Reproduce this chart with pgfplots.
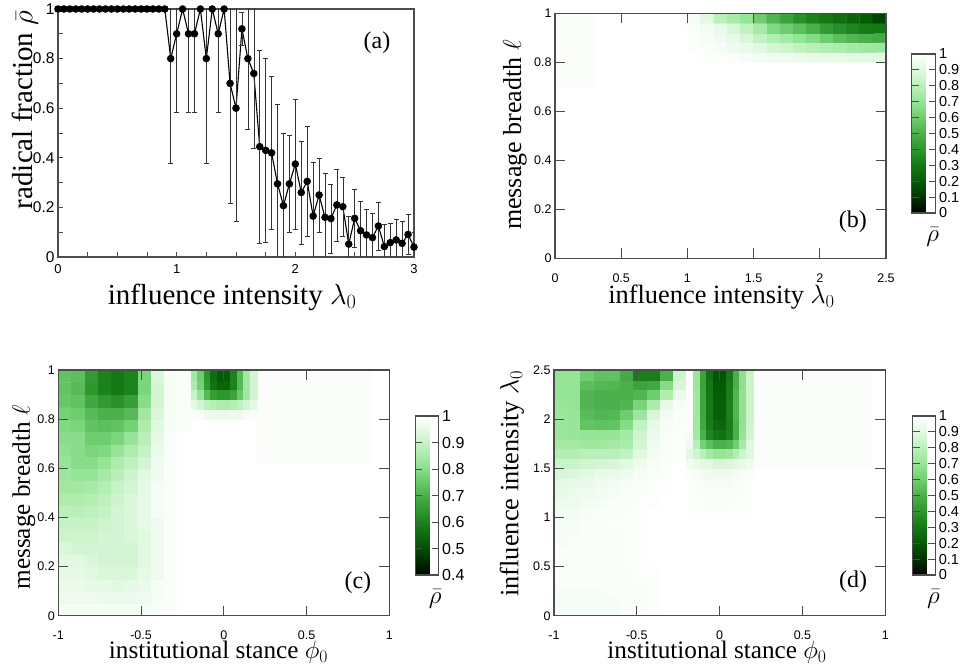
\RequirePackage{fix-cm}
\documentclass[border=0pt]{standalone}
\usepackage{fontspec}
\setmainfont{Liberation Serif}
\setsansfont{Liberation Sans}
\usepackage{pgfplots}
\pgfplotsset{compat=1.18}

\definecolor{frame}{gray}{0.3}
\definecolor{faint}{RGB}{250,253,250}

\newcommand{\tickfont}{\fontsize{12.5}{14}\sffamily}
\newcommand{\cbfont}{\fontsize{14.5}{15}\sffamily}
\newcommand{\labfont}{\fontsize{25.2}{29}\selectfont}

\pgfplotsset{
  colormap={rhogreen}{rgb255(0cm)=(0,0,0); rgb255(1cm)=(0,50,0); rgb255(2cm)=(5,90,5);
    rgb255(3cm)=(20,120,20); rgb255(4cm)=(45,150,45); rgb255(5cm)=(75,175,75);
    rgb255(6cm)=(110,205,110); rgb255(7cm)=(150,228,150); rgb255(8cm)=(185,240,185);
    rgb255(9cm)=(225,248,225); rgb255(10cm)=(255,255,255)},
  panel/.style={
    scale only axis, enlargelimits=false,
    axis line style={frame, line width=1.1pt},
    tick style={frame, line width=0.9pt},
    tick align=inside,
    tick label style={font=\tickfont},
    label style={font=\labfont},
  },
  heat/.style={
    panel, axis on top, major tick length=10pt,
    colormap name=rhogreen, colorbar,
    point meta min=0, point meta max=1,
    xticklabel style={yshift=-12pt},
  },
  cb/.style={
    scale only axis, width=23.5pt, height=159pt,
    axis line style={frame, line width=1.1pt},
    tick style={frame, line width=0.9pt},
    ytick pos=both, yticklabel pos=right, tick align=inside, major tick length=7pt,
    yticklabel style={font=\cbfont, inner ysep=0pt},
    xlabel={$\bar{\rho}$},
    xlabel style={font=\fontsize{25}{29}\selectfont, anchor=center, inner sep=0pt},
  },
}

\begin{document}
\begin{tikzpicture}
\useasboundingbox (0,0) rectangle (969pt,665pt);

% ---------------- (a)
\begin{axis}[panel,
  at={(58pt,408pt)}, anchor=south west, width=356pt, height=248pt,
  xmin=0, xmax=3, ymin=0, ymax=1,
  xtick={0,1,2,3}, xticklabels={0,1,2,3},
  ytick={0,0.2,0.4,0.6,0.8,1}, yticklabels={0,0.2,0.4,0.6,0.8,1},
  minor x tick num=3, minor y tick num=1,
  tick pos=left, major tick length=5pt, minor tick length=5pt,
  yticklabel style={font=\fontsize{15.5}{17}\sffamily},
  xticklabel style={font=\fontsize{13}{15}\sffamily, yshift=-4pt},
  xlabel={influence intensity $\lambda_0$}, ylabel={radical fraction $\bar{\rho}$},
  label style={font=\fontsize{29}{33}\selectfont},
  xlabel style={at={(axis description cs:0.489,-0.161)}, anchor=center},
  ylabel style={at={(axis description cs:-0.093,0.593)}, anchor=center},
]
\addplot[black, line width=1.1pt, mark=*, mark size=3.2pt, mark options={fill=black},
  error bars/.cd, y dir=both, y explicit,
  error bar style={black!80, line width=0.5pt},
  error mark options={rotate=90, mark size=2.5pt, line width=0.5pt, black!80}]
  table[x=x, y=y, y error=e] {
x y e
0 1 0
0.05 1 0
0.10 1 0
0.15 1 0
0.20 1 0
0.25 1 0
0.30 1 0
0.35 1 0
0.40 1 0
0.45 1 0
0.50 1 0
0.55 1 0
0.60 1 0
0.65 1 0
0.70 1 0
0.75 1 0
0.80 1 0
0.85 1 0
0.90 1 0
0.95 0.80 0.42
1.00 0.90 0.315
1.05 1.00 0
1.10 0.90 0.315
1.15 0.90 0.315
1.20 1.00 0
1.25 0.80 0.42
1.30 1.00 0
1.35 0.90 0.315
1.40 1.00 0
1.45 0.70 0.485
1.50 0.60 0.455
1.55 0.92 0.065
1.60 0.80 0.285
1.65 0.74 0.30
1.70 0.445 0.39
1.75 0.43 0.37
1.80 0.42 0.31
1.85 0.295 0.32
1.90 0.207 0.293
1.95 0.295 0.195
2.00 0.375 0.263
2.05 0.26 0.208
2.10 0.305 0.223
2.15 0.165 0.219
2.20 0.25 0.15
2.25 0.16 0.177
2.30 0.155 0.139
2.35 0.21 0.145
2.40 0.203 0.12
2.45 0.052 0.111
2.50 0.156 0.118
2.55 0.106 0.117
2.60 0.089 0.104
2.65 0.078 0.098
2.70 0.125 0.096
2.75 0.042 0.09
2.80 0.058 0.08
2.85 0.069 0.084
2.90 0.055 0.09
2.95 0.091 0.081
3.00 0.04 0.06
};
\node[font=\fontsize{24}{28}\selectfont] at (axis description cs:0.896,0.863) {(a)};
\end{axis}

% ---------------- (b)
\begin{axis}[heat,
  at={(555pt,406.7pt)}, anchor=south west, width=331pt, height=245pt,
  xmin=0, xmax=2.5, ymin=0, ymax=1,
  xtick={0,0.5,1,1.5,2,2.5}, xticklabels={0,0.5,1,1.5,2,2.5},
  ytick={0,0.2,0.4,0.6,0.8,1}, yticklabels={0,0.2,0.4,0.6,0.8,1},
  xlabel={influence intensity $\lambda_0$}, ylabel={message breadth $\ell$},
  xlabel style={at={(axis description cs:0.503,-0.158)}, anchor=center, font=\fontsize{26.4}{30}\selectfont},
  ylabel style={at={(axis description cs:-0.121,0.503)}, anchor=center, font=\fontsize{26}{30}\selectfont},
  colorbar style={cb, xshift=5pt, yshift=-40.7pt, width=24pt,
    ytick={0,0.1,0.2,0.3,0.4,0.5,0.6,0.7,0.8,0.9,1},
    yticklabels={0,0.1,0.2,0.3,0.4,0.5,0.6,0.7,0.8,0.9,1},
    xlabel style={at={(axis description cs:0.88,-0.15)}}},
]
\addplot[draw=none, fill=faint, forget plot] coordinates {(0,0.7) (0.3,0.7) (0.3,1) (0,1)};
\addplot[matrix plot*, point meta=explicit, mesh/cols=15] coordinates {
(1.05,0.82)[1.00] (1.15,0.82)[0.99] (1.25,0.82)[0.99] (1.35,0.82)[0.98] (1.45,0.82)[0.97] (1.55,0.82)[0.96] (1.65,0.82)[0.95] (1.75,0.82)[0.95] (1.85,0.82)[0.94] (1.95,0.82)[0.93] (2.05,0.82)[0.92] (2.15,0.82)[0.92] (2.25,0.82)[0.91] (2.35,0.82)[0.91] (2.45,0.82)[0.90]
(1.05,0.86)[0.99] (1.15,0.86)[0.98] (1.25,0.86)[0.97] (1.35,0.86)[0.95] (1.45,0.86)[0.93] (1.55,0.86)[0.90] (1.65,0.86)[0.87] (1.75,0.86)[0.85] (1.85,0.86)[0.82] (1.95,0.86)[0.80] (2.05,0.86)[0.78] (2.15,0.86)[0.77] (2.25,0.86)[0.75] (2.35,0.86)[0.73] (2.45,0.86)[0.72]
(1.05,0.90)[0.99] (1.15,0.90)[0.97] (1.25,0.90)[0.95] (1.35,0.90)[0.92] (1.45,0.90)[0.88] (1.55,0.90)[0.83] (1.65,0.90)[0.78] (1.75,0.90)[0.74] (1.85,0.90)[0.70] (1.95,0.90)[0.66] (2.05,0.90)[0.60] (2.15,0.90)[0.55] (2.25,0.90)[0.52] (2.35,0.90)[0.50] (2.45,0.90)[0.48]
(1.05,0.94)[0.98] (1.15,0.94)[0.96] (1.25,0.94)[0.93] (1.35,0.94)[0.88] (1.45,0.94)[0.82] (1.55,0.94)[0.75] (1.65,0.94)[0.65] (1.75,0.94)[0.60] (1.85,0.94)[0.55] (1.95,0.94)[0.50] (2.05,0.94)[0.42] (2.15,0.94)[0.38] (2.25,0.94)[0.34] (2.35,0.94)[0.31] (2.45,0.94)[0.30]
(1.05,0.98)[0.97] (1.15,0.98)[0.90] (1.25,0.98)[0.80] (1.35,0.98)[0.75] (1.45,0.98)[0.70] (1.55,0.98)[0.60] (1.65,0.98)[0.52] (1.75,0.98)[0.45] (1.85,0.98)[0.38] (1.95,0.98)[0.33] (2.05,0.98)[0.30] (2.15,0.98)[0.27] (2.25,0.98)[0.23] (2.35,0.98)[0.20] (2.45,0.98)[0.14]
};
\node[font=\fontsize{24}{28}\selectfont] at (axis description cs:0.9,0.148) {(b)};
\end{axis}

% ---------------- (c)
\begin{axis}[heat,
  at={(58.3pt,49.3pt)}, anchor=south west, width=331pt, height=245.7pt,
  xmin=-1, xmax=1, ymin=0, ymax=1,
  point meta min=0.4, point meta max=1,
  xtick={-1,-0.5,0,0.5,1}, xticklabels={-1,-0.5,0,0.5,1},
  ytick={0,0.2,0.4,0.6,0.8,1}, yticklabels={0,0.2,0.4,0.6,0.8,1},
  xlabel={institutional stance $\phi_0$}, ylabel={message breadth $\ell$},
  xlabel style={at={(axis description cs:0.484,-0.148)}, anchor=center},
  ylabel style={at={(axis description cs:-0.104,0.481)}, anchor=center},
  colorbar style={cb, xshift=10.7pt, yshift=-46pt, width=23.3pt,
    ytick={0.4,0.5,0.6,0.7,0.8,0.9,1},
    yticklabels={0.4,0.5,0.6,0.7,0.8,0.9,1},
    yticklabel style={font=\fontsize{16}{17}\sffamily},
    xlabel style={at={(axis description cs:0.85,-0.15)}}},
]
\addplot[draw=none, fill=faint, forget plot] coordinates {(0.2,0.62) (0.9,0.62) (0.9,1) (0.2,1)};
\addplot[matrix plot*, point meta=explicit, mesh/cols=10] coordinates {
(-0.96,0.025)[0.98] (-0.88,0.025)[0.98] (-0.80,0.025)[0.98] (-0.72,0.025)[0.98] (-0.64,0.025)[0.98] (-0.56,0.025)[0.98] (-0.48,0.025)[0.98] (-0.40,0.025)[0.99] (-0.32,0.025)[0.99] (-0.24,0.025)[1]
(-0.96,0.075)[0.97] (-0.88,0.075)[0.97] (-0.80,0.075)[0.97] (-0.72,0.075)[0.96] (-0.64,0.075)[0.96] (-0.56,0.075)[0.96] (-0.48,0.075)[0.97] (-0.40,0.075)[0.98] (-0.32,0.075)[0.99] (-0.24,0.075)[1]
(-0.96,0.125)[0.96] (-0.88,0.125)[0.96] (-0.80,0.125)[0.95] (-0.72,0.125)[0.95] (-0.64,0.125)[0.94] (-0.56,0.125)[0.95] (-0.48,0.125)[0.96] (-0.40,0.125)[0.98] (-0.32,0.125)[0.99] (-0.24,0.125)[1]
(-0.96,0.175)[0.95] (-0.88,0.175)[0.95] (-0.80,0.175)[0.94] (-0.72,0.175)[0.93] (-0.64,0.175)[0.93] (-0.56,0.175)[0.93] (-0.48,0.175)[0.95] (-0.40,0.175)[0.97] (-0.32,0.175)[0.99] (-0.24,0.175)[1]
(-0.96,0.225)[0.94] (-0.88,0.225)[0.94] (-0.80,0.225)[0.93] (-0.72,0.225)[0.92] (-0.64,0.225)[0.92] (-0.56,0.225)[0.92] (-0.48,0.225)[0.94] (-0.40,0.225)[0.97] (-0.32,0.225)[0.99] (-0.24,0.225)[1]
(-0.96,0.275)[0.93] (-0.88,0.275)[0.92] (-0.80,0.275)[0.92] (-0.72,0.275)[0.92] (-0.64,0.275)[0.92] (-0.56,0.275)[0.92] (-0.48,0.275)[0.94] (-0.40,0.275)[0.97] (-0.32,0.275)[0.99] (-0.24,0.275)[1]
(-0.96,0.325)[0.91] (-0.88,0.325)[0.91] (-0.80,0.325)[0.91] (-0.72,0.325)[0.92] (-0.64,0.325)[0.92] (-0.56,0.325)[0.93] (-0.48,0.325)[0.94] (-0.40,0.325)[0.97] (-0.32,0.325)[0.99] (-0.24,0.325)[1]
(-0.96,0.375)[0.90] (-0.88,0.375)[0.90] (-0.80,0.375)[0.90] (-0.72,0.375)[0.91] (-0.64,0.375)[0.92] (-0.56,0.375)[0.93] (-0.48,0.375)[0.95] (-0.40,0.375)[0.97] (-0.32,0.375)[0.99] (-0.24,0.375)[1]
(-0.96,0.425)[0.88] (-0.88,0.425)[0.88] (-0.80,0.425)[0.89] (-0.72,0.425)[0.90] (-0.64,0.425)[0.92] (-0.56,0.425)[0.93] (-0.48,0.425)[0.95] (-0.40,0.425)[0.98] (-0.32,0.425)[0.99] (-0.24,0.425)[1]
(-0.96,0.475)[0.86] (-0.88,0.475)[0.86] (-0.80,0.475)[0.87] (-0.72,0.475)[0.89] (-0.64,0.475)[0.91] (-0.56,0.475)[0.93] (-0.48,0.475)[0.95] (-0.40,0.475)[0.98] (-0.32,0.475)[0.99] (-0.24,0.475)[1]
(-0.96,0.525)[0.84] (-0.88,0.525)[0.84] (-0.80,0.525)[0.85] (-0.72,0.525)[0.87] (-0.64,0.525)[0.90] (-0.56,0.525)[0.92] (-0.48,0.525)[0.95] (-0.40,0.525)[0.98] (-0.32,0.525)[0.99] (-0.24,0.525)[1]
(-0.96,0.575)[0.83] (-0.88,0.575)[0.82] (-0.80,0.575)[0.82] (-0.72,0.575)[0.85] (-0.64,0.575)[0.88] (-0.56,0.575)[0.91] (-0.48,0.575)[0.94] (-0.40,0.575)[0.97] (-0.32,0.575)[0.99] (-0.24,0.575)[1]
(-0.96,0.625)[0.82] (-0.88,0.625)[0.80] (-0.80,0.625)[0.80] (-0.72,0.625)[0.82] (-0.64,0.625)[0.86] (-0.56,0.625)[0.89] (-0.48,0.625)[0.92] (-0.40,0.625)[0.97] (-0.32,0.625)[0.99] (-0.24,0.625)[1]
(-0.96,0.675)[0.81] (-0.88,0.675)[0.80] (-0.80,0.675)[0.78] (-0.72,0.675)[0.79] (-0.64,0.675)[0.82] (-0.56,0.675)[0.86] (-0.48,0.675)[0.90] (-0.40,0.675)[0.96] (-0.32,0.675)[0.99] (-0.24,0.675)[1]
(-0.96,0.725)[0.80] (-0.88,0.725)[0.80] (-0.80,0.725)[0.76] (-0.72,0.725)[0.76] (-0.64,0.725)[0.78] (-0.56,0.725)[0.82] (-0.48,0.725)[0.88] (-0.40,0.725)[0.95] (-0.32,0.725)[0.99] (-0.24,0.725)[1]
(-0.96,0.775)[0.79] (-0.88,0.775)[0.78] (-0.80,0.775)[0.74] (-0.72,0.775)[0.73] (-0.64,0.775)[0.74] (-0.56,0.775)[0.77] (-0.48,0.775)[0.86] (-0.40,0.775)[0.94] (-0.32,0.775)[0.98] (-0.24,0.775)[0.99]
(-0.96,0.825)[0.77] (-0.88,0.825)[0.76] (-0.80,0.825)[0.72] (-0.72,0.825)[0.70] (-0.64,0.825)[0.70] (-0.56,0.825)[0.72] (-0.48,0.825)[0.84] (-0.40,0.825)[0.93] (-0.32,0.825)[0.98] (-0.24,0.825)[0.99]
(-0.96,0.875)[0.75] (-0.88,0.875)[0.74] (-0.80,0.875)[0.68] (-0.72,0.875)[0.65] (-0.64,0.875)[0.63] (-0.56,0.875)[0.66] (-0.48,0.875)[0.80] (-0.40,0.875)[0.92] (-0.32,0.875)[0.98] (-0.24,0.875)[0.99]
(-0.96,0.925)[0.74] (-0.88,0.925)[0.72] (-0.80,0.925)[0.64] (-0.72,0.925)[0.60] (-0.64,0.925)[0.58] (-0.56,0.925)[0.60] (-0.48,0.925)[0.78] (-0.40,0.925)[0.92] (-0.32,0.925)[0.98] (-0.24,0.925)[0.99]
(-0.96,0.975)[0.74] (-0.88,0.975)[0.73] (-0.80,0.975)[0.65] (-0.72,0.975)[0.60] (-0.64,0.975)[0.58] (-0.56,0.975)[0.60] (-0.48,0.975)[0.78] (-0.40,0.975)[0.93] (-0.32,0.975)[0.98] (-0.24,0.975)[0.99]
};
\addplot[matrix plot*, point meta=explicit, mesh/cols=10] coordinates {
(-0.18,0.82)[0.99] (-0.14,0.82)[0.98] (-0.10,0.82)[0.97] (-0.06,0.82)[0.97] (-0.02,0.82)[0.96] (0.02,0.82)[0.96] (0.06,0.82)[0.97] (0.10,0.82)[0.97] (0.14,0.82)[0.98] (0.18,0.82)[0.99]
(-0.18,0.86)[0.95] (-0.14,0.86)[0.92] (-0.10,0.86)[0.89] (-0.06,0.86)[0.87] (-0.02,0.86)[0.86] (0.02,0.86)[0.86] (0.06,0.86)[0.87] (0.10,0.86)[0.89] (0.14,0.86)[0.92] (0.18,0.86)[0.95]
(-0.18,0.90)[0.90] (-0.14,0.90)[0.82] (-0.10,0.90)[0.72] (-0.06,0.90)[0.66] (-0.02,0.90)[0.64] (0.02,0.90)[0.64] (0.06,0.90)[0.67] (0.10,0.90)[0.75] (0.14,0.90)[0.84] (0.18,0.90)[0.92]
(-0.18,0.94)[0.86] (-0.14,0.94)[0.77] (-0.10,0.94)[0.65] (-0.06,0.94)[0.57] (-0.02,0.94)[0.54] (0.02,0.94)[0.54] (0.06,0.94)[0.60] (0.10,0.94)[0.72] (0.14,0.94)[0.84] (0.18,0.94)[0.92]
(-0.18,0.98)[0.84] (-0.14,0.98)[0.76] (-0.10,0.98)[0.64] (-0.06,0.98)[0.56] (-0.02,0.98)[0.52] (0.02,0.98)[0.52] (0.06,0.98)[0.60] (0.10,0.98)[0.72] (0.14,0.98)[0.84] (0.18,0.98)[0.92]
};
\node[font=\fontsize{24}{28}\selectfont] at (axis description cs:0.905,0.133) {(c)};
\end{axis}

% ---------------- (d)
\begin{axis}[heat,
  at={(554pt,49.3pt)}, anchor=south west, width=331.3pt, height=245.7pt,
  xmin=-1, xmax=1, ymin=0, ymax=2.5,
  xtick={-1,-0.5,0,0.5,1}, xticklabels={-1,-0.5,0,0.5,1},
  ytick={0,0.5,1,1.5,2,2.5}, yticklabels={0,0.5,1,1.5,2,2.5},
  xlabel={institutional stance $\phi_0$}, ylabel={influence intensity $\lambda_0$},
  xlabel style={at={(axis description cs:0.492,-0.148)}, anchor=center},
  ylabel style={at={(axis description cs:-0.127,0.538)}, anchor=center, font=\fontsize{26.4}{30}\selectfont},
  colorbar style={cb, xshift=12pt, yshift=-46pt, width=22.6pt,
    ytick={0,0.1,0.2,0.3,0.4,0.5,0.6,0.7,0.8,0.9,1},
    yticklabels={0,0.1,0.2,0.3,0.4,0.5,0.6,0.7,0.8,0.9,1},
    xlabel style={at={(axis description cs:0.92,-0.15)}}},
]
\addplot[draw=none, fill=faint, forget plot] coordinates {(0.2,1.5) (0.92,1.5) (0.92,2.5) (0.2,2.5)};
\addplot[matrix plot*, point meta=explicit, mesh/cols=10] coordinates {
(-0.96,0.05)[0.97] (-0.88,0.05)[0.97] (-0.80,0.05)[0.97] (-0.72,0.05)[0.97] (-0.64,0.05)[0.97] (-0.56,0.05)[0.98] (-0.48,0.05)[0.98] (-0.40,0.05)[0.99] (-0.32,0.05)[1] (-0.24,0.05)[1]
(-0.96,0.15)[0.97] (-0.88,0.15)[0.97] (-0.80,0.15)[0.97] (-0.72,0.15)[0.97] (-0.64,0.15)[0.97] (-0.56,0.15)[0.98] (-0.48,0.15)[0.98] (-0.40,0.15)[0.99] (-0.32,0.15)[1] (-0.24,0.15)[1]
(-0.96,0.25)[0.97] (-0.88,0.25)[0.97] (-0.80,0.25)[0.97] (-0.72,0.25)[0.97] (-0.64,0.25)[0.98] (-0.56,0.25)[0.98] (-0.48,0.25)[0.98] (-0.40,0.25)[0.99] (-0.32,0.25)[1] (-0.24,0.25)[1]
(-0.96,0.35)[0.98] (-0.88,0.35)[0.98] (-0.80,0.35)[0.98] (-0.72,0.35)[0.98] (-0.64,0.35)[0.98] (-0.56,0.35)[0.98] (-0.48,0.35)[0.99] (-0.40,0.35)[0.99] (-0.32,0.35)[1] (-0.24,0.35)[1]
(-0.96,0.45)[0.98] (-0.88,0.45)[0.98] (-0.80,0.45)[0.98] (-0.72,0.45)[0.98] (-0.64,0.45)[0.98] (-0.56,0.45)[0.98] (-0.48,0.45)[0.99] (-0.40,0.45)[0.99] (-0.32,0.45)[1] (-0.24,0.45)[1]
(-0.96,0.55)[0.98] (-0.88,0.55)[0.98] (-0.80,0.55)[0.98] (-0.72,0.55)[0.98] (-0.64,0.55)[0.98] (-0.56,0.55)[0.99] (-0.48,0.55)[0.99] (-0.40,0.55)[1] (-0.32,0.55)[1] (-0.24,0.55)[1]
(-0.96,0.65)[0.98] (-0.88,0.65)[0.98] (-0.80,0.65)[0.98] (-0.72,0.65)[0.98] (-0.64,0.65)[0.98] (-0.56,0.65)[0.99] (-0.48,0.65)[0.99] (-0.40,0.65)[1] (-0.32,0.65)[1] (-0.24,0.65)[1]
(-0.96,0.75)[0.97] (-0.88,0.75)[0.98] (-0.80,0.75)[0.98] (-0.72,0.75)[0.98] (-0.64,0.75)[0.98] (-0.56,0.75)[0.99] (-0.48,0.75)[0.99] (-0.40,0.75)[1] (-0.32,0.75)[1] (-0.24,0.75)[1]
(-0.96,0.85)[0.97] (-0.88,0.85)[0.97] (-0.80,0.85)[0.98] (-0.72,0.85)[0.98] (-0.64,0.85)[0.98] (-0.56,0.85)[0.99] (-0.48,0.85)[0.99] (-0.40,0.85)[1] (-0.32,0.85)[1] (-0.24,0.85)[1]
(-0.96,0.95)[0.97] (-0.88,0.95)[0.97] (-0.80,0.95)[0.98] (-0.72,0.95)[0.98] (-0.64,0.95)[0.99] (-0.56,0.95)[0.99] (-0.48,0.95)[0.99] (-0.40,0.95)[1] (-0.32,0.95)[1] (-0.24,0.95)[1]
(-0.96,1.05)[0.96] (-0.88,1.05)[0.96] (-0.80,1.05)[0.97] (-0.72,1.05)[0.98] (-0.64,1.05)[0.98] (-0.56,1.05)[0.99] (-0.48,1.05)[0.99] (-0.40,1.05)[1] (-0.32,1.05)[1] (-0.24,1.05)[1]
(-0.96,1.15)[0.95] (-0.88,1.15)[0.95] (-0.80,1.15)[0.96] (-0.72,1.15)[0.97] (-0.64,1.15)[0.98] (-0.56,1.15)[0.98] (-0.48,1.15)[0.99] (-0.40,1.15)[0.99] (-0.32,1.15)[1] (-0.24,1.15)[1]
(-0.96,1.25)[0.93] (-0.88,1.25)[0.94] (-0.80,1.25)[0.95] (-0.72,1.25)[0.96] (-0.64,1.25)[0.97] (-0.56,1.25)[0.98] (-0.48,1.25)[0.98] (-0.40,1.25)[0.99] (-0.32,1.25)[1] (-0.24,1.25)[1]
(-0.96,1.35)[0.91] (-0.88,1.35)[0.92] (-0.80,1.35)[0.93] (-0.72,1.35)[0.95] (-0.64,1.35)[0.96] (-0.56,1.35)[0.97] (-0.48,1.35)[0.98] (-0.40,1.35)[0.99] (-0.32,1.35)[0.99] (-0.24,1.35)[1]
(-0.96,1.45)[0.88] (-0.88,1.45)[0.89] (-0.80,1.45)[0.90] (-0.72,1.45)[0.92] (-0.64,1.45)[0.93] (-0.56,1.45)[0.95] (-0.48,1.45)[0.97] (-0.40,1.45)[0.98] (-0.32,1.45)[0.99] (-0.24,1.45)[1]
(-0.96,1.55)[0.84] (-0.88,1.55)[0.84] (-0.80,1.55)[0.86] (-0.72,1.55)[0.87] (-0.64,1.55)[0.88] (-0.56,1.55)[0.90] (-0.48,1.55)[0.94] (-0.40,1.55)[0.97] (-0.32,1.55)[0.99] (-0.24,1.55)[1]
(-0.96,1.65)[0.78] (-0.88,1.65)[0.78] (-0.80,1.65)[0.80] (-0.72,1.65)[0.80] (-0.64,1.65)[0.80] (-0.56,1.65)[0.82] (-0.48,1.65)[0.90] (-0.40,1.65)[0.96] (-0.32,1.65)[0.98] (-0.24,1.65)[0.99]
(-0.96,1.75)[0.74] (-0.88,1.75)[0.74] (-0.80,1.75)[0.73] (-0.72,1.75)[0.73] (-0.64,1.75)[0.74] (-0.56,1.75)[0.76] (-0.48,1.75)[0.87] (-0.40,1.75)[0.95] (-0.32,1.75)[0.98] (-0.24,1.75)[0.99]
(-0.96,1.85)[0.72] (-0.88,1.85)[0.71] (-0.80,1.85)[0.70] (-0.72,1.85)[0.70] (-0.64,1.85)[0.70] (-0.56,1.85)[0.74] (-0.48,1.85)[0.85] (-0.40,1.85)[0.94] (-0.32,1.85)[0.98] (-0.24,1.85)[0.99]
(-0.96,1.95)[0.72] (-0.88,1.95)[0.71] (-0.80,1.95)[0.57] (-0.72,1.95)[0.56] (-0.64,1.95)[0.57] (-0.56,1.95)[0.66] (-0.48,1.95)[0.82] (-0.40,1.95)[0.92] (-0.32,1.95)[0.97] (-0.24,1.95)[0.99]
(-0.96,2.05)[0.72] (-0.88,2.05)[0.71] (-0.80,2.05)[0.54] (-0.72,2.05)[0.52] (-0.64,2.05)[0.53] (-0.56,2.05)[0.60] (-0.48,2.05)[0.72] (-0.40,2.05)[0.88] (-0.32,2.05)[0.96] (-0.24,2.05)[0.98]
(-0.96,2.15)[0.71] (-0.88,2.15)[0.70] (-0.80,2.15)[0.52] (-0.72,2.15)[0.50] (-0.64,2.15)[0.50] (-0.56,2.15)[0.52] (-0.48,2.15)[0.63] (-0.40,2.15)[0.76] (-0.32,2.15)[0.92] (-0.24,2.15)[0.97]
(-0.96,2.25)[0.70] (-0.88,2.25)[0.70] (-0.80,2.25)[0.52] (-0.72,2.25)[0.50] (-0.64,2.25)[0.50] (-0.56,2.25)[0.50] (-0.48,2.25)[0.52] (-0.40,2.25)[0.60] (-0.32,2.25)[0.78] (-0.24,2.25)[0.94]
(-0.96,2.35)[0.70] (-0.88,2.35)[0.70] (-0.80,2.35)[0.55] (-0.72,2.35)[0.53] (-0.64,2.35)[0.52] (-0.56,2.35)[0.50] (-0.48,2.35)[0.45] (-0.40,2.35)[0.47] (-0.32,2.35)[0.66] (-0.24,2.35)[0.88]
(-0.96,2.45)[0.70] (-0.88,2.45)[0.70] (-0.80,2.45)[0.60] (-0.72,2.45)[0.56] (-0.64,2.45)[0.56] (-0.56,2.45)[0.48] (-0.48,2.45)[0.32] (-0.40,2.45)[0.32] (-0.32,2.45)[0.50] (-0.24,2.45)[0.85]
};
\addplot[matrix plot*, point meta=explicit, mesh/cols=10] coordinates {
(-0.18,1.05)[0.99] (-0.14,1.05)[0.99] (-0.10,1.05)[0.99] (-0.06,1.05)[0.99] (-0.02,1.05)[0.99] (0.02,1.05)[0.99] (0.06,1.05)[0.99] (0.10,1.05)[0.99] (0.14,1.05)[0.99] (0.18,1.05)[0.99]
(-0.18,1.15)[0.99] (-0.14,1.15)[0.99] (-0.10,1.15)[0.99] (-0.06,1.15)[0.98] (-0.02,1.15)[0.98] (0.02,1.15)[0.98] (0.06,1.15)[0.98] (0.10,1.15)[0.99] (0.14,1.15)[0.99] (0.18,1.15)[0.99]
(-0.18,1.25)[0.99] (-0.14,1.25)[0.99] (-0.10,1.25)[0.98] (-0.06,1.25)[0.98] (-0.02,1.25)[0.98] (0.02,1.25)[0.98] (0.06,1.25)[0.98] (0.10,1.25)[0.98] (0.14,1.25)[0.99] (0.18,1.25)[0.99]
(-0.18,1.35)[0.99] (-0.14,1.35)[0.98] (-0.10,1.35)[0.98] (-0.06,1.35)[0.97] (-0.02,1.35)[0.97] (0.02,1.35)[0.97] (0.06,1.35)[0.97] (0.10,1.35)[0.98] (0.14,1.35)[0.98] (0.18,1.35)[0.99]
(-0.18,1.45)[0.98] (-0.14,1.45)[0.97] (-0.10,1.45)[0.96] (-0.06,1.45)[0.95] (-0.02,1.45)[0.95] (0.02,1.45)[0.95] (0.06,1.45)[0.95] (0.10,1.45)[0.96] (0.14,1.45)[0.97] (0.18,1.45)[0.98]
(-0.18,1.55)[0.95] (-0.14,1.55)[0.93] (-0.10,1.55)[0.91] (-0.06,1.55)[0.90] (-0.02,1.55)[0.88] (0.02,1.55)[0.88] (0.06,1.55)[0.89] (0.10,1.55)[0.91] (0.14,1.55)[0.93] (0.18,1.55)[0.95]
(-0.18,1.65)[0.90] (-0.14,1.65)[0.86] (-0.10,1.65)[0.80] (-0.06,1.65)[0.74] (-0.02,1.65)[0.70] (0.02,1.65)[0.70] (0.06,1.65)[0.72] (0.10,1.65)[0.78] (0.14,1.65)[0.85] (0.18,1.65)[0.90]
(-0.18,1.75)[0.95] (-0.14,1.75)[0.80] (-0.10,1.75)[0.62] (-0.06,1.75)[0.55] (-0.02,1.75)[0.50] (0.02,1.75)[0.50] (0.06,1.75)[0.52] (0.10,1.75)[0.60] (0.14,1.75)[0.75] (0.18,1.75)[0.90]
(-0.18,1.85)[0.97] (-0.14,1.85)[0.74] (-0.10,1.85)[0.50] (-0.06,1.85)[0.35] (-0.02,1.85)[0.30] (0.02,1.85)[0.28] (0.06,1.85)[0.33] (0.10,1.85)[0.50] (0.14,1.85)[0.70] (0.18,1.85)[0.86]
(-0.18,1.95)[0.98] (-0.14,1.95)[0.73] (-0.10,1.95)[0.47] (-0.06,1.95)[0.32] (-0.02,1.95)[0.25] (0.02,1.95)[0.24] (0.06,1.95)[0.32] (0.10,1.95)[0.50] (0.14,1.95)[0.69] (0.18,1.95)[0.85]
(-0.18,2.05)[0.99] (-0.14,2.05)[0.73] (-0.10,2.05)[0.46] (-0.06,2.05)[0.31] (-0.02,2.05)[0.22] (0.02,2.05)[0.22] (0.06,2.05)[0.33] (0.10,2.05)[0.52] (0.14,2.05)[0.69] (0.18,2.05)[0.84]
(-0.18,2.15)[0.99] (-0.14,2.15)[0.73] (-0.10,2.15)[0.46] (-0.06,2.15)[0.31] (-0.02,2.15)[0.22] (0.02,2.15)[0.22] (0.06,2.15)[0.33] (0.10,2.15)[0.52] (0.14,2.15)[0.69] (0.18,2.15)[0.84]
(-0.18,2.25)[0.99] (-0.14,2.25)[0.73] (-0.10,2.25)[0.46] (-0.06,2.25)[0.30] (-0.02,2.25)[0.21] (0.02,2.25)[0.21] (0.06,2.25)[0.32] (0.10,2.25)[0.52] (0.14,2.25)[0.69] (0.18,2.25)[0.84]
(-0.18,2.35)[0.99] (-0.14,2.35)[0.72] (-0.10,2.35)[0.45] (-0.06,2.35)[0.30] (-0.02,2.35)[0.20] (0.02,2.35)[0.20] (0.06,2.35)[0.32] (0.10,2.35)[0.50] (0.14,2.35)[0.68] (0.18,2.35)[0.84]
(-0.18,2.45)[0.99] (-0.14,2.45)[0.72] (-0.10,2.45)[0.45] (-0.06,2.45)[0.28] (-0.02,2.45)[0.18] (0.02,2.45)[0.18] (0.06,2.45)[0.30] (0.10,2.45)[0.50] (0.14,2.45)[0.68] (0.18,2.45)[0.84]
};
\node[font=\fontsize{24}{28}\selectfont] at (axis description cs:0.903,0.137) {(d)};
\end{axis}
\end{tikzpicture}
\end{document}
